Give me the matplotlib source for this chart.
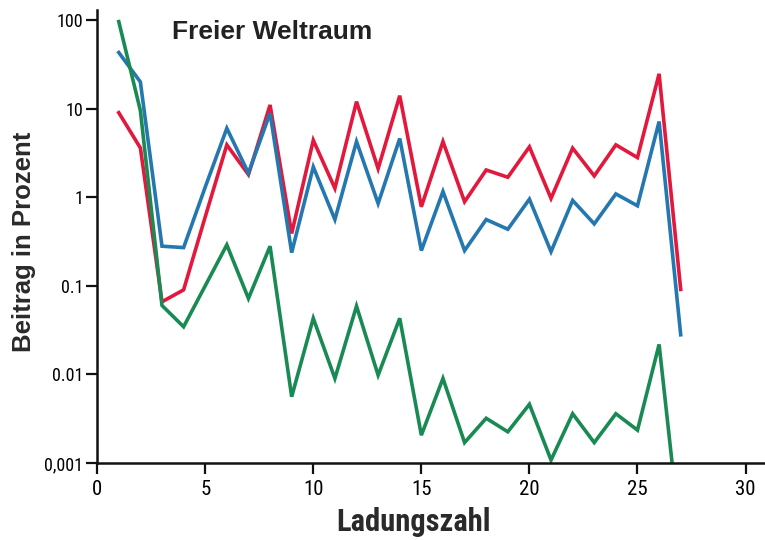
import matplotlib
matplotlib.use("Agg")
import matplotlib.pyplot as plt
from matplotlib import font_manager

charge = list(range(1, 28))
red_vals = [9.0, 3.6, 0.066, 0.09, 0.6, 3.9, 1.8, 11.0, 0.39, 4.4, 1.26, 12.0, 2.1, 14.0,
            0.78, 4.25, 0.89, 2.03, 1.68, 3.7, 0.97, 3.58, 1.74, 3.9, 2.8, 24.7, 0.091]
blue_vals = [43.0, 20.0, 0.28, 0.27, 1.3, 6.0, 1.87, 8.9, 0.237, 2.2, 0.56, 4.25, 0.85, 4.6,
             0.25, 1.16, 0.25, 0.56, 0.435, 0.95, 0.243, 0.92, 0.5, 1.09, 0.8, 7.15, 0.028]
green_vals = [96.0, 9.5, 0.06, 0.0345, 0.1, 0.29, 0.072, 0.28, 0.0056, 0.043, 0.009, 0.059,
              0.0098, 0.043, 0.00206, 0.009, 0.0017, 0.0032, 0.00225, 0.0046, 0.00108,
              0.0036, 0.0017, 0.0036, 0.00235, 0.0218, 0.00013]

ytick_vals = [0.001, 0.01, 0.1, 1, 10, 100]
ytick_labels = ["0,001", "0.01", "0.1", "1", "10", "100"]
xtick_vals = [0, 5, 10, 15, 20, 25, 30]

names = {f.name for f in font_manager.fontManager.ttflist}
narrow = "Liberation Sans Narrow" if "Liberation Sans Narrow" in names else "Roboto Condensed" if "Roboto Condensed" in names else "Liberation Sans"

fig = plt.figure(figsize=(7.65, 5.4), dpi=100)
ax = fig.add_axes([0.127, 0.1426, 0.873, 0.839])

ax.plot(charge, red_vals, color="#e2183c", lw=2.6, solid_joinstyle="miter")
ax.plot(charge, blue_vals, color="#2577b0", lw=2.6, solid_joinstyle="miter")
ax.plot(charge, green_vals, color="#1a8a55", lw=2.6, solid_joinstyle="miter")

ax.set_yscale("log")
ax.set_ylim(0.001, 130)
ax.set_xlim(0, 30.9)
ax.set_yticks(ytick_vals)
ax.set_yticklabels(ytick_labels)
ax.minorticks_off()
ax.set_xticks(xtick_vals)
ax.set_xticklabels([str(v) for v in xtick_vals])

for s in ["top", "right"]:
    ax.spines[s].set_visible(False)
for s in ["left", "bottom"]:
    ax.spines[s].set_linewidth(1.8)
    ax.spines[s].set_color("#111111")

ax.tick_params(axis="both", direction="out", length=8, width=1.6, color="#111111")
for lab in ax.get_xticklabels():
    lab.set_fontfamily(narrow)
    lab.set_fontsize(15)
for lab in ax.get_yticklabels():
    lab.set_fontfamily(narrow)
    lab.set_fontsize(13)
ax.tick_params(axis="y", pad=2)
ax.tick_params(axis="x", pad=4)

fig.text(0.54, 0.033, "Ladungszahl", fontfamily=narrow, fontweight="bold", fontsize=22,
         color="#2a2a2a", ha="center", va="center")
fig.text(0.031, 0.552, "Beitrag in Prozent", fontfamily="Liberation Sans", fontweight="bold",
         fontsize=18.5, color="#2a2a2a", rotation=90, ha="center", va="center")

fig.text(0.225, 0.94, "Freier Weltraum", fontfamily="Liberation Sans", fontweight="bold",
         fontsize=19, color="#222222", ha="left", va="center")

fig.savefig("out.png", dpi=100)
